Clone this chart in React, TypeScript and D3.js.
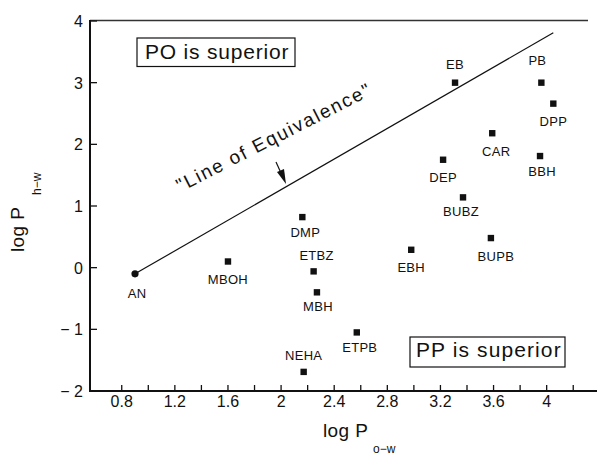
import React from 'react';
import * as d3 from 'd3';

const width = 597;
const height = 455;

// compounds: log P(o-w) vs log P(h-w)
const names = ['AN', 'MBOH', 'DMP', 'ETBZ', 'MBH', 'ETPB', 'NEHA', 'EBH', 'BUPB', 'EB', 'PB', 'DPP', 'CAR', 'BBH', 'DEP', 'BUBZ'];
const logPow = [0.9, 1.6, 2.16, 2.245, 2.27, 2.57, 2.17, 2.98, 3.58, 3.31, 3.96, 4.05, 3.59, 3.95, 3.22, 3.37];
const logPhw = [-0.1, 0.1, 0.82, -0.06, -0.4, -1.05, -1.69, 0.29, 0.48, 3.0, 3.0, 2.66, 2.18, 1.81, 1.75, 1.14];

// label placement relative to the point (px)
const labelDx = [2, 0, 3, 3, 1, 3, 0, 0, 5, 0, -4, 0, 4, 2, 0, -2];
const labelDy = [24, 22, 20, -11, 19, 20, -12, 22, 23, -14, -18, 22, 23, 20, 22, 19];

// line of equivalence
const eqX = [0.9, 4.05];
const eqY = [-0.1, 3.81];

const xTicks = [0.8, 1.0, 1.2, 1.4, 1.6, 1.8, 2.0, 2.2, 2.4, 2.6, 2.8, 3.0, 3.2, 3.4, 3.6, 3.8, 4.0, 4.2];
const xTickLabels = ['0.8', '1.2', '1.6', '2', '2.4', '2.8', '3.2', '3.6', '4'];
const yTicks = [-2, -1, 0, 1, 2, 3, 4];
const yTickLabels = ['\u2212 2', '\u2212 1', '0', '1', '2', '3', '4'];

const font = '"Liberation Sans", Arial, sans-serif';
const ink = '#111';

export default function App() {
  const x = d3.scaleLinear().domain([0.561, 4.379]).range([90, 597]);
  const y = d3.scaleLinear().domain([-2, 4]).range([391, 21]);

  const eqLine = d3.line<number>().x((d, i) => x(eqX[i])).y((d, i) => y(eqY[i]));
  const labelVals = xTickLabels.map(s => +s);

  return (
    <svg width={width} height={height} style={{ position: 'absolute', left: 0, top: 0, background: '#fff' }} fontFamily={font}>
      {/* axes */}
      <line x1={90} y1={20.5} x2={588} y2={20.5} stroke="#333" strokeWidth={1.5} />
      <line x1={90} y1={20} x2={90} y2={392} stroke={ink} strokeWidth={2} />
      <line x1={89} y1={391} x2={597} y2={391} stroke={ink} strokeWidth={2} />

      {xTicks.map((t, i) => (
        <line key={'xt' + i} x1={x(t)} x2={x(t)} y1={391} y2={385} stroke={ink} strokeWidth={1.3} />
      ))}
      {labelVals.map((t, i) => (
        <text key={'xl' + i} x={x(t)} y={407} textAnchor="middle" fontSize={16} fill={ink}>{xTickLabels[i]}</text>
      ))}
      {yTicks.map((t, i) => (
        <g key={'yt' + i}>
          <line x1={90} x2={97} y1={y(t)} y2={y(t)} stroke={ink} strokeWidth={1.3} />
          <text x={83} y={y(t) + 6} textAnchor="end" fontSize={16} fill={ink}>{yTickLabels[i]}</text>
        </g>
      ))}

      {/* axis titles */}
      <text x={323} y={437} fontSize={19} letterSpacing={0.4} fill={ink}>log P</text>
      <text x={373} y={453} fontSize={12} fill={ink}>o{'\u2212'}w</text>
      <g transform="translate(24,252) rotate(-90)">
        <text x={0} y={0} fontSize={19} letterSpacing={0.4} fill={ink}>log P</text>
        <text x={57} y={17} fontSize={12} fill={ink}>h{'\u2212'}w</text>
      </g>

      {/* line of equivalence */}
      <path d={eqLine(eqX) || ''} fill="none" stroke={ink} strokeWidth={1.2} />
      <text transform="translate(277,143) rotate(-27)" textAnchor="middle" fontSize={19} letterSpacing={1.8} fill={ink}>
        "Line of Equivalence"
      </text>
      <line x1={276} y1={162} x2={281} y2={173} stroke={ink} strokeWidth={1.2} />
      <path d="M286,184 L277,172 L284,169 Z" fill={ink} />

      {/* points */}
      {names.map((n, i) => (
        i === 0
          ? <circle key={'p' + i} cx={x(logPow[i])} cy={y(logPhw[i])} r={3.6} fill={ink} />
          : <rect key={'p' + i} x={x(logPow[i]) - 3.2} y={y(logPhw[i]) - 3.2} width={6.4} height={6.4} fill={ink} />
      ))}
      {names.map((n, i) => (
        <text key={'l' + i} x={x(logPow[i]) + labelDx[i]} y={y(logPhw[i]) + labelDy[i]} textAnchor="middle" fontSize={13} letterSpacing={0.3} fill={ink}>{n}</text>
      ))}

      {/* annotation boxes */}
      <rect x={137} y={38} width={158} height={28.5} fill="none" stroke={ink} strokeWidth={1.2} />
      <text x={145} y={59} fontSize={21} letterSpacing={0.8} fill={ink}>PO is superior</text>
      <rect x={410} y={337} width={155} height={30} fill="none" stroke={ink} strokeWidth={1.2} />
      <text x={416} y={357} fontSize={21} letterSpacing={1.1} fill={ink}>PP is superior</text>
    </svg>
  );
}
